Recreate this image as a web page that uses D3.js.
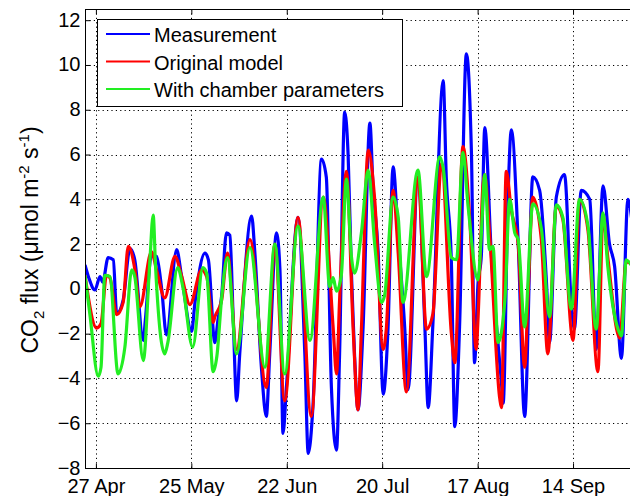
<!DOCTYPE html>
<html lang="en">
<head>
<meta charset="UTF-8">
<title>CO2 flux</title>
<style>
  body { margin: 0; background: #fff; }
  text { font-family: Arial, "Liberation Sans", sans-serif; fill: #000; }
</style>
<script src="https://cdn.jsdelivr.net/npm/d3@7"></script>
</head>
<body>
<script>
// days since 27 Apr, flux value
var measurement = [[-3.2,1.07],[-2.1,0.5],[-0.3,-0.05],[1.2,0.55],[2.0,0.3],[3.6,1.4],[5.1,1.3],[6.1,-1.1],[8.0,-0.5],[10.0,1.8],[11.4,1.3],[13.9,-2.3],[14.5,-1.4],[16.3,1.5],[17.8,1.45],[19.3,0.0],[20.7,-2.05],[23.7,1.75],[25.1,0.6],[28.1,-1.9],[29.0,-0.7],[32.0,1.6],[33.0,1.3],[34.9,-2.4],[35.8,-1.4],[36.9,-0.3],[38.3,2.5],[39.3,2.4],[40.3,-1.4],[41.3,-5.0],[42.2,-2.9],[45.7,3.25],[46.6,1.7],[48.6,-3.6],[50.0,-5.7],[51.0,-2.9],[53.0,2.5],[54.0,0.85],[54.9,-6.45],[55.9,-4.4],[59.3,3.2],[61.3,-2.9],[62.3,-7.35],[63.7,-5.2],[66.2,5.8],[67.6,5.0],[69.1,-4.4],[70.6,-7.2],[71.5,-2.9],[73.0,7.9],[74.0,6.0],[75.0,0.6],[75.9,-3.0],[76.9,-5.4],[78.4,-1.7],[80.4,7.4],[81.3,4.6],[82.8,1.7],[84.3,-4.7],[85.7,-1.8],[87.2,5.45],[88.7,2.3],[90.6,-1.7],[91.6,-4.5],[94.5,5.0],[96.5,-1.6],[97.5,-5.3],[98.9,-1.5],[101.9,9.3],[102.8,5.0],[104.3,1.2],[105.3,-6.15],[106.7,-1.7],[108.7,10.5],[110.2,6.0],[111.1,-3.3],[112.1,0.2],[113.1,1.5],[114.1,7.2],[116.0,1.6],[119.0,-4.2],[119.5,-5.1],[120.9,4.0],[121.9,7.1],[123.9,2.1],[125.8,-5.7],[128.2,5.0],[130.2,4.4],[132.2,0.3],[133.1,-2.4],[135.1,4.1],[137.5,5.1],[139.5,-0.7],[140.4,-1.8],[142.4,4.4],[144.9,4.0],[146.8,-2.7],[148.8,4.6],[150.7,2.0],[152.2,1.0],[154.2,-3.1],[156.1,4.0],[157.3,3.0]];

var originalModel = [[-3.2,0.6],[0.2,-1.75],[1.5,-1.55],[3.1,0.6],[4.1,0.5],[6.1,-1.15],[8.0,-0.6],[9.5,1.9],[11.4,0.9],[12.9,-0.8],[16.3,1.65],[17.8,0.85],[20.2,-0.4],[23.2,1.45],[25.1,0.6],[27.6,-0.7],[31.0,0.85],[32.5,0.55],[34.4,-1.5],[34.9,-1.25],[36.9,-0.5],[38.6,1.6],[41.3,-2.7],[45.2,2.2],[50.0,-4.4],[52.5,2.0],[55.4,-5.0],[59.3,3.2],[63.2,-5.7],[66.7,4.1],[69.6,-1.7],[70.6,-3.8],[71.5,-0.5],[73.5,5.25],[75.5,-1.85],[76.9,-5.4],[77.9,-1.8],[79.9,6.2],[81.8,4.0],[84.3,-2.7],[85.2,-1.8],[87.2,4.4],[88.7,1.6],[91.1,-4.6],[94.5,5.0],[97.0,-1.8],[98.9,-1.1],[101.4,5.6],[104.3,-2.0],[105.3,-3.3],[107.7,6.35],[109.7,3.1],[111.6,-2.7],[112.1,-1.4],[113.6,4.7],[114.1,5.1],[115.5,2.5],[118.5,-4.9],[119.0,-5.3],[120.4,5.25],[121.9,3.5],[123.9,2.0],[125.8,-3.5],[126.8,-0.3],[128.2,4.1],[130.7,2.2],[132.6,-2.9],[135.1,3.7],[137.0,3.1],[140.0,-2.3],[141.9,4.0],[144.4,2.6],[147.3,-3.7],[148.8,3.3],[150.2,1.4],[153.7,-2.2],[155.6,1.2],[157.3,1.1]];

var chamberParams = [[-3.2,0.6],[-1.8,-1.1],[0.7,-3.9],[1.5,-3.5],[2.6,0.6],[4.1,0.55],[6.5,-3.8],[8.5,-2.6],[10.5,0.85],[11.4,0.55],[13.9,-3.2],[15.8,1.15],[16.8,3.3],[17.5,1.0],[20.2,-2.9],[21.1,-2.4],[24.0,0.95],[25.5,0.1],[28.4,-2.6],[31.4,0.95],[32.5,0.7],[34.4,-3.7],[35.5,-3.0],[36.9,-0.4],[38.6,1.4],[41.3,-2.9],[45.2,1.85],[49.6,-3.5],[52.5,2.0],[55.4,-3.8],[59.3,2.8],[62.8,-2.3],[66.7,4.1],[68.6,0.1],[69.6,0.5],[70.6,-0.1],[72.0,0.6],[73.5,4.9],[75.0,1.4],[75.9,0.7],[77.9,2.5],[79.9,5.3],[81.8,2.0],[83.8,-0.6],[84.7,-0.3],[87.2,4.1],[88.7,3.2],[90.1,-0.6],[94.5,5.3],[97.0,0.55],[100.9,5.9],[101.9,5.4],[104.3,1.4],[105.8,1.3],[107.7,6.1],[109.2,3.7],[112.1,0.4],[113.1,2.5],[114.1,5.1],[115.5,1.75],[116.5,1.9],[118.0,-2.4],[120.0,-0.5],[121.4,4.0],[122.9,2.5],[123.9,2.2],[125.8,-1.7],[128.2,3.8],[130.7,2.7],[133.1,-1.25],[135.1,3.75],[137.0,3.2],[139.5,-0.9],[141.9,4.0],[144.4,2.8],[146.8,-1.8],[148.8,3.4],[150.2,1.0],[153.2,-1.8],[154.2,-2.1],[155.6,1.3],[157.3,1.0]];

var seriesNames = ['Measurement', 'Original model', 'With chamber parameters'];
var seriesColors = ['#0000ff', '#ff0000', '#22ee22'];
var dayTicks = [0, 28, 56, 84, 112, 140];
var dayLabels = ['27 Apr', '25 May', '22 Jun', '20 Jul', '17 Aug', '14 Sep'];
var yTicks = [-8, -6, -4, -2, 0, 2, 4, 6, 8, 10, 12];

var width = 630, height = 496;
var plot = {left: 85, top: 9, right: 632, bottom: 468};

var svg = d3.select('body').append('svg')
  .attr('width', width)
  .attr('height', height);

var x = d3.scaleLinear().domain([-3.2, 157.3]).range([plot.left, plot.right]);
var y = d3.scaleLinear().domain([-8, 12.5]).range([plot.bottom, plot.top]);

svg.append('clipPath').attr('id', 'clip')
  .append('rect')
  .attr('x', plot.left).attr('y', plot.top)
  .attr('width', plot.right - plot.left).attr('height', plot.bottom - plot.top);

// dotted grid
var grid = svg.append('g').attr('stroke', '#000').attr('stroke-width', 1)
  .attr('stroke-dasharray', '1.2,3.2');
grid.selectAll('.gx').data(dayTicks).enter().append('line')
  .attr('x1', function(d) { return Math.round(x(d)) + 0.5; })
  .attr('x2', function(d) { return Math.round(x(d)) + 0.5; })
  .attr('y1', plot.top).attr('y2', plot.bottom);
grid.selectAll('.gy').data(yTicks).enter().append('line')
  .attr('y1', function(d) { return Math.round(y(d)) + 0.5; })
  .attr('y2', function(d) { return Math.round(y(d)) + 0.5; })
  .attr('x1', plot.left).attr('x2', plot.right);

// series, green drawn last
var line = d3.line()
  .curve(d3.curveMonotoneX)
  .x(function(d) { return x(d[0]); })
  .y(function(d) { return y(d[1]); });
var allSeries = [measurement, originalModel, chamberParams];
svg.append('g').attr('clip-path', 'url(#clip)')
  .selectAll('path').data(allSeries).enter().append('path')
  .attr('d', line)
  .attr('fill', 'none')
  .attr('stroke', function(d, i) { return seriesColors[i]; })
  .attr('stroke-width', 3.2)
  .attr('stroke-linejoin', 'round');

// axes box
svg.append('rect')
  .attr('x', plot.left + 0.5).attr('y', plot.top + 0.5)
  .attr('width', plot.right - plot.left).attr('height', plot.bottom - plot.top)
  .attr('fill', 'none').attr('stroke', '#000').attr('stroke-width', 1);

var yAxis = svg.append('g')
  .attr('transform', 'translate(' + (plot.left + 0.5) + ',0)')
  .call(d3.axisLeft(y).tickValues(yTicks).tickSize(-5).tickPadding(5));
var xAxis = svg.append('g')
  .attr('transform', 'translate(0,' + (plot.bottom + 0.5) + ')')
  .call(d3.axisBottom(x).tickValues(dayTicks).tickSize(-5).tickPadding(10)
    .tickFormat(function(d, i) { return dayLabels[i]; }));
var xTop = svg.append('g')
  .attr('transform', 'translate(0,' + (plot.top + 0.5) + ')')
  .call(d3.axisTop(x).tickValues(dayTicks).tickSize(-5).tickFormat(''));
[yAxis, xAxis, xTop].forEach(function(a) {
  a.select('.domain').remove();
  a.selectAll('text').attr('font-size', '20px').attr('font-family', 'Arial, "Liberation Sans", sans-serif').attr('fill', '#000');
  a.selectAll('line').attr('stroke', '#000');
});
yAxis.selectAll('text').attr('dy', '0.3em');

// y label
var ylab = svg.append('text')
  .attr('transform', 'translate(38,240) rotate(-90)')
  .attr('text-anchor', 'middle')
  .attr('font-size', '23px');
ylab.append('tspan').text('CO');
ylab.append('tspan').attr('font-size', '15px').attr('dy', 6).text('2');
ylab.append('tspan').attr('dy', -6).text(' flux (\u03bcmol m');
ylab.append('tspan').attr('font-size', '15px').attr('dy', -9).text('-2');
ylab.append('tspan').attr('dy', 9).text(' s');
ylab.append('tspan').attr('font-size', '15px').attr('dy', -9).text('-1');
ylab.append('tspan').attr('dy', 9).text(')');

// legend
var legend = svg.append('g');
legend.append('rect')
  .attr('x', 97.5).attr('y', 19.5).attr('width', 305).attr('height', 87)
  .attr('fill', '#fff').attr('stroke', '#000').attr('stroke-width', 1);
var rows = legend.selectAll('.row').data(seriesNames).enter().append('g')
  .attr('transform', function(d, i) { return 'translate(0,' + (34 + i * 27.5) + ')'; });
rows.append('line')
  .attr('x1', 106).attr('x2', 150).attr('y1', 0).attr('y2', 0)
  .attr('stroke', function(d, i) { return seriesColors[i]; })
  .attr('stroke-width', 2);
rows.append('text')
  .attr('x', 154).attr('y', 8)
  .attr('font-size', '20px')
  .text(function(d) { return d; });
</script>
</body>
</html>
